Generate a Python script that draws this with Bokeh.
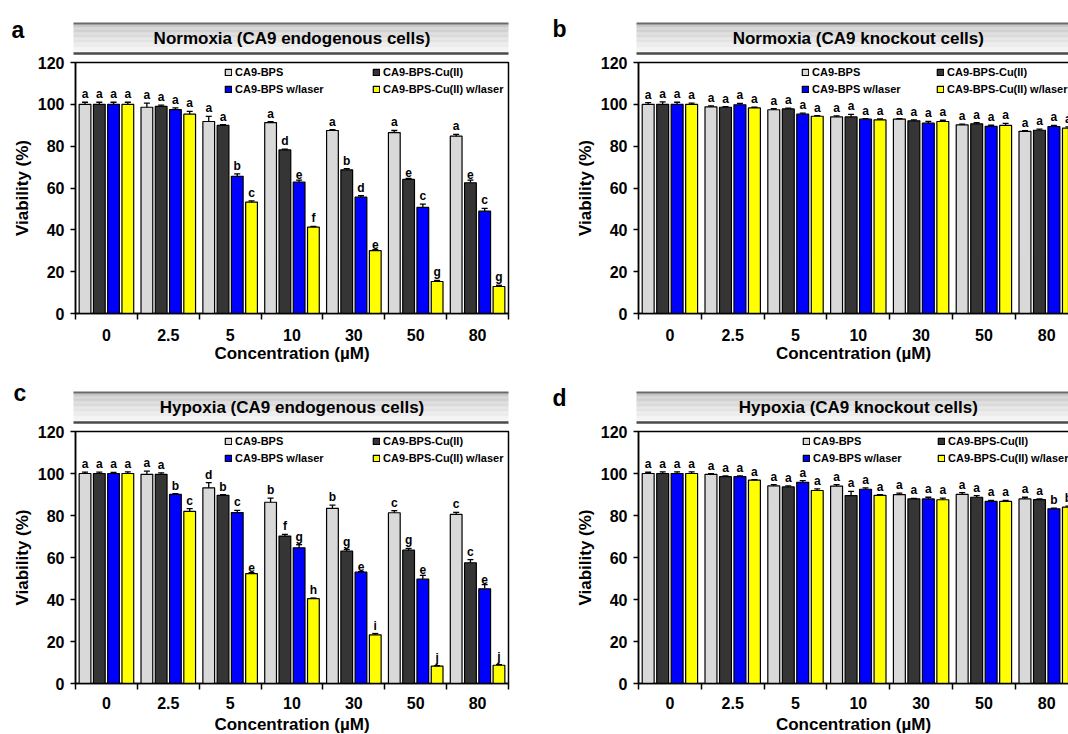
from bokeh.plotting import figure
from bokeh.layouts import column, row
from bokeh.models import (Range1d, FixedTicker, Legend, LegendItem,
                          ColumnDataSource, Whisker, TeeHead)
from bokeh.core.properties import value
from bokeh.embed import file_html
from bokeh.resources import INLINE

# ---------------- data ----------------
concentrations = ["0", "2.5", "5", "10", "30", "50", "80"]
series_names = ["CA9-BPS", "CA9-BPS-Cu(II)", "CA9-BPS w/laser", "CA9-BPS-Cu(II) w/laser"]
series_colors = ["#d9d9d9", "#353535", "#0000ff", "#ffff00"]
y_ticks = [0, 20, 40, 60, 80, 100, 120]

# (a) Normoxia, CA9 endogenous cells
a_bps = [100.0, 98.6, 91.8, 91.3, 87.5, 86.5, 84.8]
a_cu = [100.0, 99.0, 89.9, 78.2, 68.7, 64.1, 62.5]
a_laser = [100.0, 97.5, 65.6, 62.8, 55.6, 50.7, 48.9]
a_cu_laser = [100.0, 95.3, 53.2, 41.3, 30.1, 15.3, 12.9]
a_bps_err = [1.0, 2.0, 2.4, 0.4, 0.4, 1.0, 0.8]
a_cu_err = [1.0, 0.6, 0.4, 0.4, 0.6, 0.5, 1.3]
a_laser_err = [1.0, 0.8, 1.2, 1.0, 0.7, 1.6, 1.4]
a_cu_laser_err = [1.0, 1.3, 0.6, 0.4, 0.4, 0.5, 0.6]
a_bps_sig = ["a", "a", "a", "a", "a", "a", "a"]
a_cu_sig = ["a", "a", "a", "d", "b", "e", "e"]
a_laser_sig = ["a", "a", "b", "e", "d", "c", "c"]
a_cu_laser_sig = ["a", "a", "c", "f", "e", "g", "g"]

# (b) Normoxia, CA9 knockout cells
b_bps = [100.0, 98.8, 97.4, 94.0, 92.9, 90.2, 87.1]
b_cu = [100.0, 98.6, 97.8, 94.0, 92.1, 90.7, 87.6]
b_laser = [100.0, 99.8, 95.3, 92.9, 91.0, 89.5, 89.4]
b_cu_laser = [100.0, 98.3, 94.3, 92.6, 91.8, 89.9, 88.6]
b_bps_err = [0.8, 0.5, 0.5, 0.5, 0.3, 0.3, 0.3]
b_cu_err = [1.2, 0.3, 0.4, 1.2, 0.5, 0.5, 0.5]
b_laser_err = [1.0, 0.6, 0.5, 0.3, 0.8, 0.5, 0.5]
b_cu_laser_err = [0.6, 0.3, 0.3, 0.4, 0.6, 1.0, 0.6]
b_bps_sig = ["a", "a", "a", "a", "a", "a", "a"]
b_cu_sig = ["a", "a", "a", "a", "a", "a", "a"]
b_laser_sig = ["a", "a", "a", "a", "a", "a", "a"]
b_cu_laser_sig = ["a", "a", "a", "a", "a", "a", "a"]

# (c) Hypoxia, CA9 endogenous cells
c_bps = [100.0, 99.6, 93.2, 86.3, 83.4, 81.3, 80.5]
c_cu = [100.0, 99.6, 89.6, 70.2, 63.0, 63.5, 57.5]
c_laser = [100.0, 90.1, 81.4, 64.6, 53.0, 49.7, 45.1]
c_cu_laser = [100.0, 82.0, 52.3, 40.4, 23.2, 8.3, 8.7]
c_bps_err = [0.7, 1.5, 2.5, 2.0, 1.5, 1.0, 1.0]
c_cu_err = [0.7, 0.7, 0.3, 0.8, 0.8, 0.8, 1.5]
c_laser_err = [0.5, 0.3, 1.0, 1.5, 0.3, 1.8, 2.0]
c_cu_laser_err = [0.8, 1.3, 0.5, 0.3, 0.6, 0.2, 0.3]
c_bps_sig = ["a", "a", "d", "b", "b", "c", "c"]
c_cu_sig = ["a", "a", "b", "f", "g", "g", "c"]
c_laser_sig = ["a", "b", "c", "g", "e", "e", "e"]
c_cu_laser_sig = ["a", "c", "e", "h", "i", "j", "j"]

# (d) Hypoxia, CA9 knockout cells
d_bps = [100.0, 99.6, 94.1, 94.0, 89.9, 90.1, 87.9]
d_cu = [100.0, 98.5, 93.6, 89.5, 87.9, 88.7, 87.6]
d_laser = [100.0, 98.5, 95.8, 92.5, 87.9, 86.7, 83.2]
d_cu_laser = [100.0, 96.8, 91.9, 89.6, 87.5, 86.7, 84.0]
d_bps_err = [0.6, 0.3, 0.6, 0.7, 0.8, 0.8, 0.8]
d_cu_err = [0.8, 0.3, 0.5, 2.0, 0.3, 0.8, 0.3]
d_laser_err = [0.8, 0.4, 0.8, 0.7, 0.8, 0.5, 0.3]
d_cu_laser_err = [0.8, 0.3, 0.8, 0.3, 0.8, 0.5, 0.5]
d_bps_sig = ["a", "a", "a", "a", "a", "a", "a"]
d_cu_sig = ["a", "a", "a", "a", "a", "a", "a"]
d_laser_sig = ["a", "a", "a", "a", "a", "a", "b"]
d_cu_laser_sig = ["a", "a", "a", "a", "a", "a", "b"]

# ---------------- styling ----------------
FONT_NAME = "Liberation Sans"
FONT = value(FONT_NAME)
BAR_OFFSETS = [-0.346, -0.115, 0.115, 0.346]
BAR_WIDTH = 0.19


def make_panel(letter, title, values, errors, sigs, *, canvas_w, canvas_h,
               x0_px, px_per_x, y0_px, y120_px, legend_x, legend_w, letter_px,
               tick_standoff, label_standoff):
    """All *_px are canvas pixels (from left / from top of this figure)."""
    n = len(concentrations)
    scale = (y0_px - y120_px) / 120.0            # px per y unit
    x_start = -x0_px / px_per_x
    x_end = (canvas_w - x0_px) / px_per_x
    y_end = y0_px / scale
    y_start = -(canvas_h - y0_px) / scale

    p = figure(width=canvas_w, height=canvas_h,
               x_range=Range1d(x_start, x_end), y_range=Range1d(y_start, y_end),
               output_backend="svg", toolbar_location=None,
               min_border_left=0, min_border_right=0,
               min_border_top=0, min_border_bottom=0)
    p.title.visible = False
    p.outline_line_color = None
    p.xgrid.visible = False
    p.ygrid.visible = False
    p.background_fill_color = "white"
    p.border_fill_color = "white"

    # banner (gradient strip) above the plot box
    b_lo = 120 + 9 / scale
    b_hi = 120 + 39 / scale
    b_left = -2 / px_per_x
    strips = 24
    for k in range(strips):
        t = k / (strips - 1)
        g = int(round(196 + (249 - 196) * t))
        y1 = b_hi - (b_hi - b_lo) * k / strips
        y0 = b_hi - (b_hi - b_lo) * (k + 1) / strips
        p.quad(left=[b_left], right=[n], bottom=[y0], top=[y1],
               fill_color="#%02x%02x%02x" % (g, g, g), line_color=None)
    p.line(x=[b_left, n], y=[b_hi, b_hi], line_color="#6a6a6a", line_width=2)
    p.line(x=[b_left, n], y=[b_lo, b_lo], line_color="#4a4a4a", line_width=2.5)
    p.text(x=[n / 2], y=[(b_lo + b_hi) / 2], text=[title], text_align="center",
           text_baseline="middle", text_font=FONT, text_font_style="bold",
           text_font_size="17px", text_color="black")

    # panel letter
    p.text(x=[(letter_px[0] - x0_px) / px_per_x], y=[(y0_px - letter_px[1]) / scale],
           text=[letter], text_align="left", text_baseline="alphabetic",
           text_font=FONT, text_font_style="bold", text_font_size="23px",
           text_color="black")

    # plot box
    p.quad(left=[0], right=[n], bottom=[0], top=[120], fill_color=None,
           line_color="black", line_width=1.5)

    centers = [i + 0.5 for i in range(n)]
    renderers = []
    for j in range(4):
        xs = [c + BAR_OFFSETS[j] for c in centers]
        tops = values[j]
        r = p.vbar(x=xs, width=BAR_WIDTH, bottom=0, top=tops,
                   fill_color=series_colors[j], line_color="black", line_width=1.2)
        renderers.append(r)
        uppers = [t + e for t, e in zip(tops, errors[j])]
        src = ColumnDataSource(dict(x=xs, lower=tops, upper=uppers))
        p.add_layout(Whisker(source=src, base="x", lower="lower", upper="upper",
                             lower_head=None,
                             upper_head=TeeHead(size=6, line_width=1.3, line_color="black"),
                             line_color="black", line_width=1.3, level="glyph"))
        p.text(x=xs, y=uppers, text=sigs[j], text_align="center",
               text_baseline="bottom", y_offset=-1, text_font=FONT,
               text_font_style="bold", text_font_size="12px", text_color="black")

    # x axis at y = 0: labels at group centres, tick marks between groups
    xa = p.xaxis[0]
    xa.fixed_location = 0
    xa.bounds = (0, n)
    xa.ticker = FixedTicker(ticks=centers, minor_ticks=[float(i) for i in range(n + 1)])
    xa.major_label_overrides = {c: lab for c, lab in zip(centers, concentrations)}
    xa.major_tick_out = 0
    xa.major_tick_in = 0
    xa.minor_tick_out = 6
    xa.minor_tick_in = 0
    xa.minor_tick_line_color = "black"
    xa.minor_tick_line_width = 1.5
    xa.axis_line_width = 1.5
    xa.axis_line_color = "black"
    xa.major_label_standoff = tick_standoff
    xa.major_label_text_font = FONT_NAME
    xa.major_label_text_font_style = "bold"
    xa.major_label_text_font_size = "16px"
    xa.major_label_text_color = "black"
    xa.axis_label = "Concentration (\u00b5M)"
    xa.axis_label_text_font = FONT_NAME
    xa.axis_label_text_font_style = "bold"
    xa.axis_label_text_font_size = "17px"
    xa.axis_label_text_color = "black"
    xa.axis_label_standoff = label_standoff

    # y axis at x = 0
    ya = p.yaxis[0]
    ya.fixed_location = 0
    ya.ticker = FixedTicker(ticks=y_ticks, minor_ticks=[])
    ya.bounds = (0, 120)
    ya.major_tick_out = 5
    ya.major_tick_in = 0
    ya.major_tick_line_width = 1.5
    ya.axis_line_width = 1.5
    ya.axis_line_color = "black"
    ya.major_label_standoff = 6
    ya.major_label_text_font = FONT_NAME
    ya.major_label_text_font_style = "bold"
    ya.major_label_text_font_size = "16px"
    ya.major_label_text_color = "black"
    ya.axis_label = "Viability (%)"
    ya.axis_label_text_font = FONT_NAME
    ya.axis_label_text_font_style = "bold"
    ya.axis_label_text_font_size = "17px"
    ya.axis_label_text_color = "black"
    ya.axis_label_standoff = 3

    # legend, two columns (row-major)
    items = [LegendItem(label=nm, renderers=[r]) for nm, r in zip(series_names, renderers)]
    leg = Legend(items=items, location=(legend_x, canvas_h - (y120_px + 34)),
                 orientation="horizontal", ncols=2,
                 glyph_width=8, glyph_height=8, label_standoff=3,
                 label_height=14, label_width=legend_w, spacing=3,
                 padding=0, margin=0, border_line_color=None,
                 background_fill_alpha=0,
                 label_text_font=FONT_NAME, label_text_font_style="bold",
                 label_text_font_size="11px", label_text_color="black")
    p.add_layout(leg)
    return p


pa = make_panel("a", "Normoxia (CA9 endogenous cells)",
                [a_bps, a_cu, a_laser, a_cu_laser],
                [a_bps_err, a_cu_err, a_laser_err, a_cu_laser_err],
                [a_bps_sig, a_cu_sig, a_laser_sig, a_cu_laser_sig],
                canvas_w=534, canvas_h=362, x0_px=75, px_per_x=61.857,
                y0_px=313, y120_px=62, legend_x=224, legend_w=134, letter_px=(11, 29),
                tick_standoff=9, label_standoff=0)
pb = make_panel("b", "Normoxia (CA9 knockout cells)",
                [b_bps, b_cu, b_laser, b_cu_laser],
                [b_bps_err, b_cu_err, b_laser_err, b_cu_laser_err],
                [b_bps_sig, b_cu_sig, b_laser_sig, b_cu_laser_sig],
                canvas_w=534, canvas_h=362, x0_px=104, px_per_x=62.8,
                y0_px=313, y120_px=62, legend_x=267, legend_w=121, letter_px=(18, 28),
                tick_standoff=9, label_standoff=0)
pc = make_panel("c", "Hypoxia (CA9 endogenous cells)",
                [c_bps, c_cu, c_laser, c_cu_laser],
                [c_bps_err, c_cu_err, c_laser_err, c_cu_laser_err],
                [c_bps_sig, c_cu_sig, c_laser_sig, c_cu_laser_sig],
                canvas_w=534, canvas_h=372, x0_px=75, px_per_x=61.857,
                y0_px=321, y120_px=69, legend_x=224, legend_w=134, letter_px=(13, 30),
                tick_standoff=7, label_standoff=3)
pd = make_panel("d", "Hypoxia (CA9 knockout cells)",
                [d_bps, d_cu, d_laser, d_cu_laser],
                [d_bps_err, d_cu_err, d_laser_err, d_cu_laser_err],
                [d_bps_sig, d_cu_sig, d_laser_sig, d_cu_laser_sig],
                canvas_w=534, canvas_h=372, x0_px=104, px_per_x=62.8,
                y0_px=321, y120_px=69, legend_x=268, legend_w=121, letter_px=(18, 35),
                tick_standoff=7, label_standoff=3)

layout = column(row(pa, pb), row(pc, pd))
open("out.html", "w").write(file_html(layout, INLINE))
